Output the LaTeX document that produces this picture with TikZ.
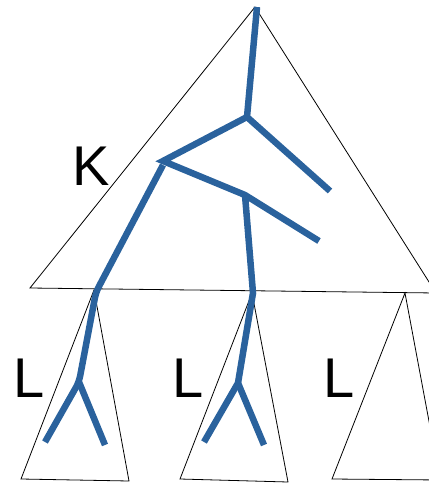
\documentclass[tikz,border=0pt]{standalone}
\usepackage{fontspec}
\setmainfont{Liberation Sans}
\definecolor{treeblue}{RGB}{42,98,157}
\begin{document}
\begin{tikzpicture}[x=1pt,y=-1pt,
  tri/.style={draw=black,line width=0.8pt,line join=miter},
  br/.style={draw=treeblue,line width=6.5pt,line join=miter},
  lbl/.style={font=\fontsize{56}{60}\selectfont,inner sep=0pt}]
\useasboundingbox (0,0) rectangle (429,483);
\clip (0,0) rectangle (429,483);
% big triangle
\coordinate (A) at (255,7);
\coordinate (BL) at (30,288);
\coordinate (BR) at (436,293);
\draw[tri] (A) -- (BR) -- (BL) -- cycle;
% small triangles
\coordinate (t1a) at (94,290); \coordinate (t1l) at (21,479); \coordinate (t1r) at (129,481);
\coordinate (t2a) at (252,293); \coordinate (t2l) at (180,479); \coordinate (t2r) at (288,482);
\coordinate (t3a) at (405,293); \coordinate (t3l) at (332,479); \coordinate (t3r) at (440,480);
\draw[tri] (t1a) -- (t1r) -- (t1l) -- cycle;
\draw[tri] (t2a) -- (t2r) -- (t2l) -- cycle;
\draw[tri] (t3a) -- (t3r) -- (t3l) -- cycle;
% tree
\coordinate (top) at (257,7);
\coordinate (n1) at (247,117);
\coordinate (e1) at (330,191);
\coordinate (n2) at (163,161);
\coordinate (n2b) at (163,165);
\coordinate (n3) at (245,195);
\coordinate (e2) at (319,241);
\coordinate (r1) at (253,293);
\coordinate (s2) at (238,383);
\coordinate (l2a) at (204,442);
\coordinate (l2b) at (264,445);
\coordinate (r0) at (96,292);
\coordinate (s1) at (79,382);
\coordinate (l1a) at (45,442);
\coordinate (l1b) at (105,445);
\draw[br] (top) -- (n1) -- (e1);
\draw[br] (n1) -- (n2) -- (n3) -- (e2);
\draw[br] (n3) -- (r1) -- (s2) -- (l2a);
\draw[br] (s2) -- (l2b);
\draw[br,rounded corners=6pt] (n2b) -- (r0) -- (s1) -- (l1a);
\draw[br] (s1) -- (l1b);
% labels
\node[lbl] (K) at (91,166) {K};
\node[lbl] (L1) at (29,378) {L};
\node[lbl] (L2) at (188,378) {L};
\node[lbl] (L3) at (339,378) {L};
\end{tikzpicture}
\end{document}
